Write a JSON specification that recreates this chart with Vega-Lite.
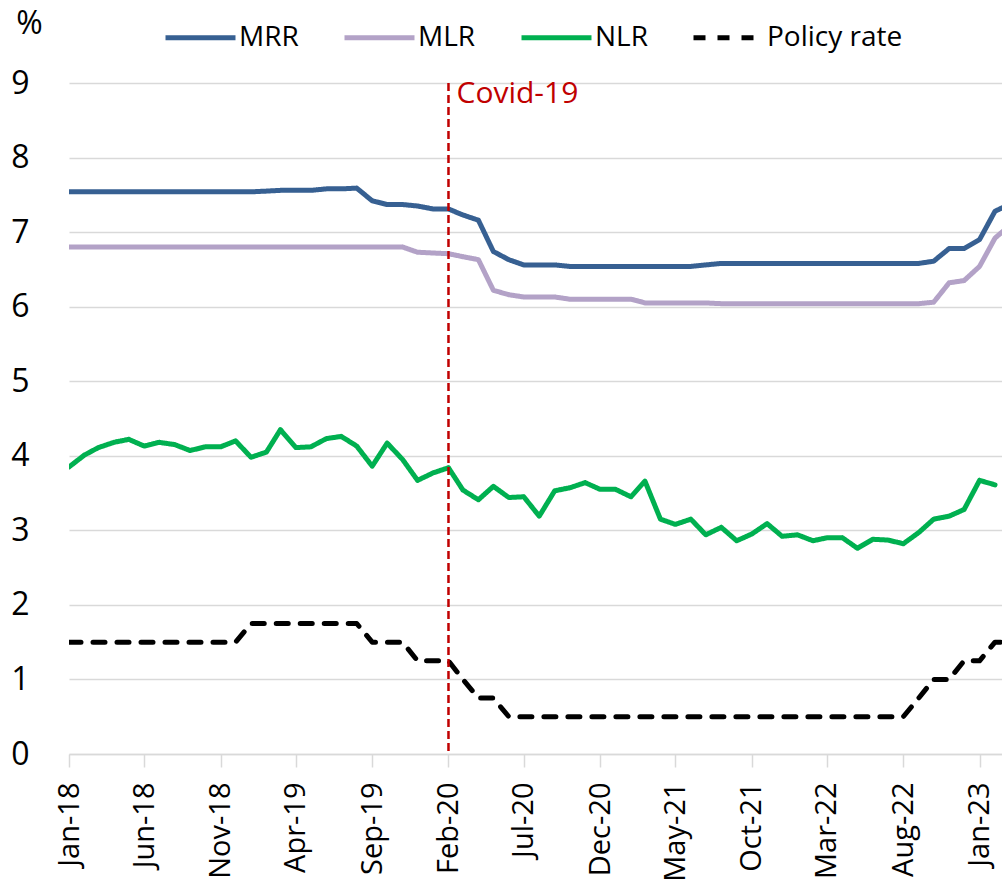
{
  "$schema": "https://vega.github.io/schema/vega-lite/v6.json",
  "width": 933,
  "height": 671,
  "autosize": {"type": "none"},
  "padding": {"left": 69, "top": 83, "right": 0, "bottom": 135},
  "background": "white",
  "config": {"view": {"stroke": null}, "font": "Open Sans"},
  "data": {
    "values": [
      {"date": "2018-01-01", "MRR": 7.54, "MLR": 6.80, "NLR": 3.85, "Policy rate": 1.50},
      {"date": "2018-02-01", "MRR": 7.54, "MLR": 6.80, "NLR": 4.01, "Policy rate": 1.50},
      {"date": "2018-03-01", "MRR": 7.54, "MLR": 6.80, "NLR": 4.11, "Policy rate": 1.50},
      {"date": "2018-04-01", "MRR": 7.54, "MLR": 6.80, "NLR": 4.18, "Policy rate": 1.50},
      {"date": "2018-05-01", "MRR": 7.54, "MLR": 6.80, "NLR": 4.22, "Policy rate": 1.50},
      {"date": "2018-06-01", "MRR": 7.54, "MLR": 6.80, "NLR": 4.13, "Policy rate": 1.50},
      {"date": "2018-07-01", "MRR": 7.54, "MLR": 6.80, "NLR": 4.18, "Policy rate": 1.50},
      {"date": "2018-08-01", "MRR": 7.54, "MLR": 6.80, "NLR": 4.15, "Policy rate": 1.50},
      {"date": "2018-09-01", "MRR": 7.54, "MLR": 6.80, "NLR": 4.07, "Policy rate": 1.50},
      {"date": "2018-10-01", "MRR": 7.54, "MLR": 6.80, "NLR": 4.12, "Policy rate": 1.50},
      {"date": "2018-11-01", "MRR": 7.54, "MLR": 6.80, "NLR": 4.12, "Policy rate": 1.50},
      {"date": "2018-12-01", "MRR": 7.54, "MLR": 6.80, "NLR": 4.20, "Policy rate": 1.50},
      {"date": "2019-01-01", "MRR": 7.54, "MLR": 6.80, "NLR": 3.98, "Policy rate": 1.75},
      {"date": "2019-02-01", "MRR": 7.55, "MLR": 6.80, "NLR": 4.05, "Policy rate": 1.75},
      {"date": "2019-03-01", "MRR": 7.56, "MLR": 6.80, "NLR": 4.35, "Policy rate": 1.75},
      {"date": "2019-04-01", "MRR": 7.56, "MLR": 6.80, "NLR": 4.11, "Policy rate": 1.75},
      {"date": "2019-05-01", "MRR": 7.56, "MLR": 6.80, "NLR": 4.12, "Policy rate": 1.75},
      {"date": "2019-06-01", "MRR": 7.58, "MLR": 6.80, "NLR": 4.23, "Policy rate": 1.75},
      {"date": "2019-07-01", "MRR": 7.58, "MLR": 6.80, "NLR": 4.26, "Policy rate": 1.75},
      {"date": "2019-08-01", "MRR": 7.59, "MLR": 6.80, "NLR": 4.13, "Policy rate": 1.75},
      {"date": "2019-09-01", "MRR": 7.42, "MLR": 6.80, "NLR": 3.86, "Policy rate": 1.50},
      {"date": "2019-10-01", "MRR": 7.37, "MLR": 6.80, "NLR": 4.17, "Policy rate": 1.50},
      {"date": "2019-11-01", "MRR": 7.37, "MLR": 6.80, "NLR": 3.95, "Policy rate": 1.50},
      {"date": "2019-12-01", "MRR": 7.35, "MLR": 6.73, "NLR": 3.67, "Policy rate": 1.25},
      {"date": "2020-01-01", "MRR": 7.31, "MLR": 6.72, "NLR": 3.77, "Policy rate": 1.25},
      {"date": "2020-02-01", "MRR": 7.31, "MLR": 6.71, "NLR": 3.84, "Policy rate": 1.25},
      {"date": "2020-03-01", "MRR": 7.23, "MLR": 6.67, "NLR": 3.54, "Policy rate": 1.00},
      {"date": "2020-04-01", "MRR": 7.16, "MLR": 6.63, "NLR": 3.41, "Policy rate": 0.75},
      {"date": "2020-05-01", "MRR": 6.74, "MLR": 6.22, "NLR": 3.59, "Policy rate": 0.75},
      {"date": "2020-06-01", "MRR": 6.63, "MLR": 6.16, "NLR": 3.44, "Policy rate": 0.50},
      {"date": "2020-07-01", "MRR": 6.56, "MLR": 6.13, "NLR": 3.45, "Policy rate": 0.50},
      {"date": "2020-08-01", "MRR": 6.56, "MLR": 6.13, "NLR": 3.19, "Policy rate": 0.50},
      {"date": "2020-09-01", "MRR": 6.56, "MLR": 6.13, "NLR": 3.53, "Policy rate": 0.50},
      {"date": "2020-10-01", "MRR": 6.54, "MLR": 6.10, "NLR": 3.57, "Policy rate": 0.50},
      {"date": "2020-11-01", "MRR": 6.54, "MLR": 6.10, "NLR": 3.64, "Policy rate": 0.50},
      {"date": "2020-12-01", "MRR": 6.54, "MLR": 6.10, "NLR": 3.55, "Policy rate": 0.50},
      {"date": "2021-01-01", "MRR": 6.54, "MLR": 6.10, "NLR": 3.55, "Policy rate": 0.50},
      {"date": "2021-02-01", "MRR": 6.54, "MLR": 6.10, "NLR": 3.45, "Policy rate": 0.50},
      {"date": "2021-03-01", "MRR": 6.54, "MLR": 6.05, "NLR": 3.66, "Policy rate": 0.50},
      {"date": "2021-04-01", "MRR": 6.54, "MLR": 6.05, "NLR": 3.15, "Policy rate": 0.50},
      {"date": "2021-05-01", "MRR": 6.54, "MLR": 6.05, "NLR": 3.08, "Policy rate": 0.50},
      {"date": "2021-06-01", "MRR": 6.54, "MLR": 6.05, "NLR": 3.15, "Policy rate": 0.50},
      {"date": "2021-07-01", "MRR": 6.56, "MLR": 6.05, "NLR": 2.94, "Policy rate": 0.50},
      {"date": "2021-08-01", "MRR": 6.58, "MLR": 6.04, "NLR": 3.04, "Policy rate": 0.50},
      {"date": "2021-09-01", "MRR": 6.58, "MLR": 6.04, "NLR": 2.86, "Policy rate": 0.50},
      {"date": "2021-10-01", "MRR": 6.58, "MLR": 6.04, "NLR": 2.95, "Policy rate": 0.50},
      {"date": "2021-11-01", "MRR": 6.58, "MLR": 6.04, "NLR": 3.09, "Policy rate": 0.50},
      {"date": "2021-12-01", "MRR": 6.58, "MLR": 6.04, "NLR": 2.92, "Policy rate": 0.50},
      {"date": "2022-01-01", "MRR": 6.58, "MLR": 6.04, "NLR": 2.94, "Policy rate": 0.50},
      {"date": "2022-02-01", "MRR": 6.58, "MLR": 6.04, "NLR": 2.86, "Policy rate": 0.50},
      {"date": "2022-03-01", "MRR": 6.58, "MLR": 6.04, "NLR": 2.90, "Policy rate": 0.50},
      {"date": "2022-04-01", "MRR": 6.58, "MLR": 6.04, "NLR": 2.90, "Policy rate": 0.50},
      {"date": "2022-05-01", "MRR": 6.58, "MLR": 6.04, "NLR": 2.76, "Policy rate": 0.50},
      {"date": "2022-06-01", "MRR": 6.58, "MLR": 6.04, "NLR": 2.88, "Policy rate": 0.50},
      {"date": "2022-07-01", "MRR": 6.58, "MLR": 6.04, "NLR": 2.87, "Policy rate": 0.50},
      {"date": "2022-08-01", "MRR": 6.58, "MLR": 6.04, "NLR": 2.82, "Policy rate": 0.50},
      {"date": "2022-09-01", "MRR": 6.58, "MLR": 6.04, "NLR": 2.97, "Policy rate": 0.75},
      {"date": "2022-10-01", "MRR": 6.61, "MLR": 6.06, "NLR": 3.15, "Policy rate": 1.00},
      {"date": "2022-11-01", "MRR": 6.78, "MLR": 6.32, "NLR": 3.19, "Policy rate": 1.00},
      {"date": "2022-12-01", "MRR": 6.78, "MLR": 6.35, "NLR": 3.28, "Policy rate": 1.25},
      {"date": "2023-01-01", "MRR": 6.90, "MLR": 6.54, "NLR": 3.67, "Policy rate": 1.25},
      {"date": "2023-02-01", "MRR": 7.28, "MLR": 6.92, "NLR": 3.61, "Policy rate": 1.50},
      {"date": "2023-03-01", "MRR": 7.37, "MLR": 7.08, "NLR": null, "Policy rate": 1.50}
    ]
  },
  "layer": [
    {
      "transform": [{"fold": ["MRR", "MLR", "NLR", "Policy rate"], "as": ["series", "value"]}],
      "mark": {"type": "line", "strokeWidth": 5, "strokeCap": "round", "strokeJoin": "round", "clip": true},
      "encoding": {
        "x": {
          "field": "date",
          "type": "temporal",
          "scale": {
            "type": "utc",
            "domain": [
              {"year": 2018, "month": 1, "date": 1, "utc": true},
              {"year": 2023, "month": 2, "date": 15, "utc": true}
            ]
          },
          "axis": {
            "values": [
              {"year": 2018, "month": 1, "date": 1, "utc": true},
              {"year": 2018, "month": 6, "date": 1, "utc": true},
              {"year": 2018, "month": 11, "date": 1, "utc": true},
              {"year": 2019, "month": 4, "date": 1, "utc": true},
              {"year": 2019, "month": 9, "date": 1, "utc": true},
              {"year": 2020, "month": 2, "date": 1, "utc": true},
              {"year": 2020, "month": 7, "date": 1, "utc": true},
              {"year": 2020, "month": 12, "date": 1, "utc": true},
              {"year": 2021, "month": 5, "date": 1, "utc": true},
              {"year": 2021, "month": 10, "date": 1, "utc": true},
              {"year": 2022, "month": 3, "date": 1, "utc": true},
              {"year": 2022, "month": 8, "date": 1, "utc": true},
              {"year": 2023, "month": 1, "date": 1, "utc": true}
            ],
            "labelExpr": "utcFormat(datum.value, '%b-%y')",
            "labelAngle": -90,
            "labelAlign": "right",
            "labelBaseline": "middle",
            "labelFontSize": 29,
            "labelColor": "#000000",
            "labelPadding": 15,
            "labelOverlap": false,
            "labelFlush": false,
            "labelBound": false,
            "tickSize": 13,
            "tickColor": "#d9d9d9",
            "tickWidth": 1.5,
            "domainColor": "#d9d9d9",
            "domainWidth": 1.5,
            "grid": false,
            "title": null
          }
        },
        "y": {
          "field": "value",
          "type": "quantitative",
          "scale": {"domain": [0, 9], "nice": false, "zero": true},
          "axis": {
            "values": [0, 1, 2, 3, 4, 5, 6, 7, 8, 9],
            "format": "d",
            "grid": true,
            "gridColor": "#d9d9d9",
            "gridWidth": 1.5,
            "domain": false,
            "ticks": false,
            "labelFontSize": 32,
            "labelColor": "#000000",
            "labelPadding": 40,
            "labelAlign": "right",
            "labelBaseline": "middle",
            "title": "%",
            "titleAngle": 0,
            "titleFontSize": 32,
            "titleFontWeight": "normal",
            "titleColor": "#000000",
            "titleX": -40,
            "titleY": -60,
            "titleAlign": "center",
            "titleBaseline": "middle"
          }
        },
        "color": {
          "field": "series",
          "type": "nominal",
          "scale": {"domain": ["MRR", "MLR", "NLR", "Policy rate"], "range": ["#376092", "#B3A2C7", "#00B050", "#000000"]},
          "legend": {
            "orient": "none",
            "legendX": 94,
            "legendY": -83,
            "direction": "horizontal",
            "title": null,
            "symbolType": "stroke",
            "symbolSize": 4900,
            "symbolStrokeWidth": 5,
            "labelFontSize": 28,
            "labelColor": "#000000",
            "labelOffset": 1,
            "columnPadding": 35,
            "padding": 0
          }
        },
        "strokeDash": {
          "field": "series",
          "type": "nominal",
          "scale": {"domain": ["MRR", "MLR", "NLR", "Policy rate"], "range": [[1, 0], [1, 0], [1, 0], [12, 12]]},
          "legend": {
            "orient": "none",
            "legendX": 94,
            "legendY": -83,
            "direction": "horizontal",
            "title": null,
            "symbolType": "stroke",
            "symbolSize": 4900,
            "symbolStrokeWidth": 5,
            "labelFontSize": 28,
            "labelColor": "#000000",
            "labelOffset": 1,
            "columnPadding": 35,
            "padding": 0
          }
        }
      }
    },
    {
      "data": {"values": [{"date": "2020-02-01", "label": "Covid-19"}]},
      "mark": {"type": "rule", "color": "#C00000", "strokeWidth": 2.5, "strokeDash": [8, 4]},
      "encoding": {
        "x": {"field": "date", "type": "temporal"}
      }
    },
    {
      "data": {"values": [{"date": "2020-02-01", "label": "Covid-19"}]},
      "mark": {"type": "text", "color": "#C00000", "fontSize": 30, "align": "left", "baseline": "top", "dx": 8, "dy": -4},
      "encoding": {
        "x": {"field": "date", "type": "temporal"},
        "y": {"datum": 9, "type": "quantitative"},
        "text": {"field": "label"}
      }
    }
  ]
}
